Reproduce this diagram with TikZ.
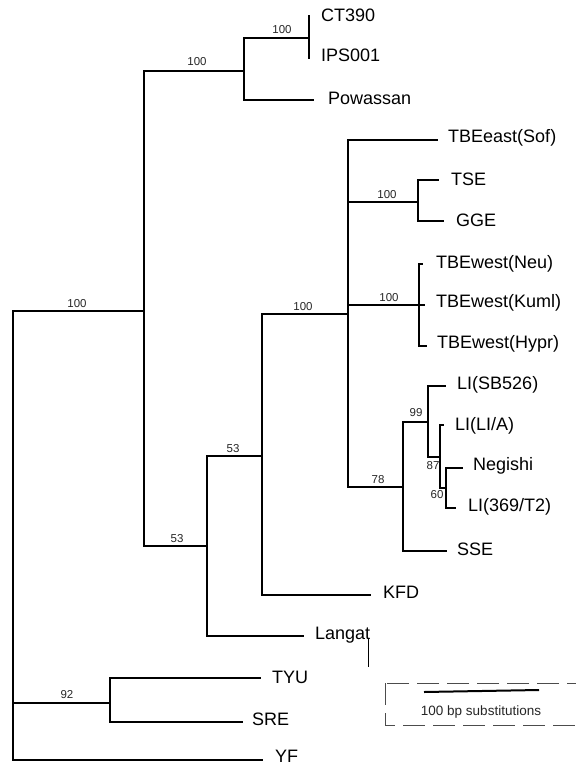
\documentclass[tikz,border=0pt]{standalone}
\usepackage{fontspec}
\setmainfont{Liberation Sans}
\begin{document}
\begin{tikzpicture}[x=1pt,y=-1pt,
  br/.style={line width=1.3pt, line cap=rect, line join=miter},
  lab/.style={anchor=west, inner sep=0pt, font=\fontsize{18}{18}\selectfont},
  bs/.style={inner sep=0pt, font=\fontsize{11.5}{11.5}\selectfont, text=black!85}]
\useasboundingbox (0,0) rectangle (575,767);
% internal nodes
\coordinate (R) at (13,536);
\coordinate (A) at (144,311);
\coordinate (P) at (244,71);
\coordinate (C) at (309,38);
\coordinate (L53) at (207,546);
\coordinate (U53) at (262,456);
\coordinate (T) at (348,314);
\coordinate (TS) at (418,202);
\coordinate (W) at (419,305);
\coordinate (N78) at (403,487);
\coordinate (N99) at (428,422);
\coordinate (N87) at (440,457);
\coordinate (N60) at (446,488);
\coordinate (N92) at (110,703);
% leaf ends
\coordinate (ct) at (309,16);
\coordinate (ips) at (309,58);
\coordinate (pow) at (313,100);
\coordinate (east) at (437,140);
\coordinate (tse) at (438,180);
\coordinate (gge) at (443,221);
\coordinate (neu) at (422,264);
\coordinate (kuml) at (424,305);
\coordinate (hypr) at (426,346);
\coordinate (sb) at (445,386);
\coordinate (lia) at (443,425);
\coordinate (neg) at (462,468);
\coordinate (t2) at (455,508);
\coordinate (sse) at (446,551);
\coordinate (kfd) at (370,595);
\coordinate (lang) at (303,636);
\coordinate (tyu) at (260,678);
\coordinate (sre) at (242,722);
\coordinate (yf) at (262,760);
% branches
\draw[br] (R) |- (A);
\draw[br] (R) |- (N92);
\draw[br] (R) |- (yf);
\draw[br] (A) |- (P);
\draw[br] (A) |- (L53);
\draw[br] (P) |- (C);
\draw[br] (P) |- (pow);
\draw[br] (C) |- (ct);
\draw[br] (C) |- (ips);
\draw[br] (L53) |- (U53);
\draw[br] (L53) |- (lang);
\draw[br] (U53) |- (T);
\draw[br] (U53) |- (kfd);
\draw[br] (T) |- (east);
\draw[br] (T) |- (TS);
\draw[br] (T) |- (W);
\draw[br] (T) |- (N78);
\draw[br] (TS) |- (tse);
\draw[br] (TS) |- (gge);
\draw[br] (W) |- (neu);
\draw[br] (W) |- (kuml);
\draw[br] (W) |- (hypr);
\draw[br] (N78) |- (N99);
\draw[br] (N78) |- (sse);
\draw[br] (N99) |- (sb);
\draw[br] (N99) |- (N87);
\draw[br] (N87) |- (lia);
\draw[br] (N87) |- (N60);
\draw[br] (N60) |- (neg);
\draw[br] (N60) |- (t2);
\draw[br] (N92) |- (tyu);
\draw[br] (N92) |- (sre);
% leaf labels
\node[lab] (lct) at (321,15) {CT390};
\node[lab] (lips) at (321,55) {IPS001};
\node[lab] (lpow) at (328,98) {Powassan};
\node[lab] (least) at (448,138) {TBEeast(Sof)};
\node[lab] (ltse) at (451,179) {TSE};
\node[lab] (lgge) at (456,220) {GGE};
\node[lab] (lneu) at (436,264) {TBEwest(Neu)};
\node[lab] (lkuml) at (436,303) {TBEwest(Kuml)};
\node[lab] (lhypr) at (437,344) {TBEwest(Hypr)};
\node[lab] (lsb) at (457,385) {LI(SB526)};
\node[lab] (llia) at (455,426) {LI(LI/A)};
\node[lab] (lneg) at (473,466) {Negishi};
\node[lab] (lt2) at (468,507) {LI(369/T2)};
\node[lab] (lsse) at (457,549) {SSE};
\node[lab] (lkfd) at (383,592) {KFD};
\node[lab] (llang) at (315,635) {Langat};
\node[lab] (ltyu) at (272,677) {TYU};
\node[lab] (lsre) at (252,719) {SRE};
\node[lab] (lyf) at (275,756) {YF};
% bootstrap values
\node[bs] (b1) at (282,30) {100};
\node[bs] (b2) at (197,62) {100};
\node[bs] (b3) at (77,304) {100};
\node[bs] (b4) at (387,195) {100};
\node[bs] (b5) at (389,298) {100};
\node[bs] (b6) at (303,307) {100};
\node[bs] (b7) at (233,449) {53};
\node[bs] (b8) at (177,539) {53};
\node[bs] (b9) at (378,480) {78};
\node[bs] (b10) at (416,413) {99};
\node[bs] (b11) at (433,466) {87};
\node[bs] (b12) at (437,495) {60};
\node[bs] (b13) at (67,695) {92};
% stray mark near Langat
\coordinate (m1) at (368,638);
\coordinate (m2) at (368,667);
\draw[line width=0.6pt] (m1) -- (m2);
% scale box
\coordinate (sb1) at (385,683);
\coordinate (sb2) at (580,725);
\draw[line width=0.7pt, black!70, dash pattern=on 22pt off 8pt] (sb1) rectangle (sb2);
\coordinate (bar1) at (424,692);
\coordinate (bar2) at (539,690);
\draw[line width=2pt] (bar1) -- (bar2);
\node[inner sep=0pt, font=\fontsize{13.5}{13.5}\selectfont, text=black!85] (sc) at (481,712) {100 bp substitutions};
\end{tikzpicture}
\end{document}
